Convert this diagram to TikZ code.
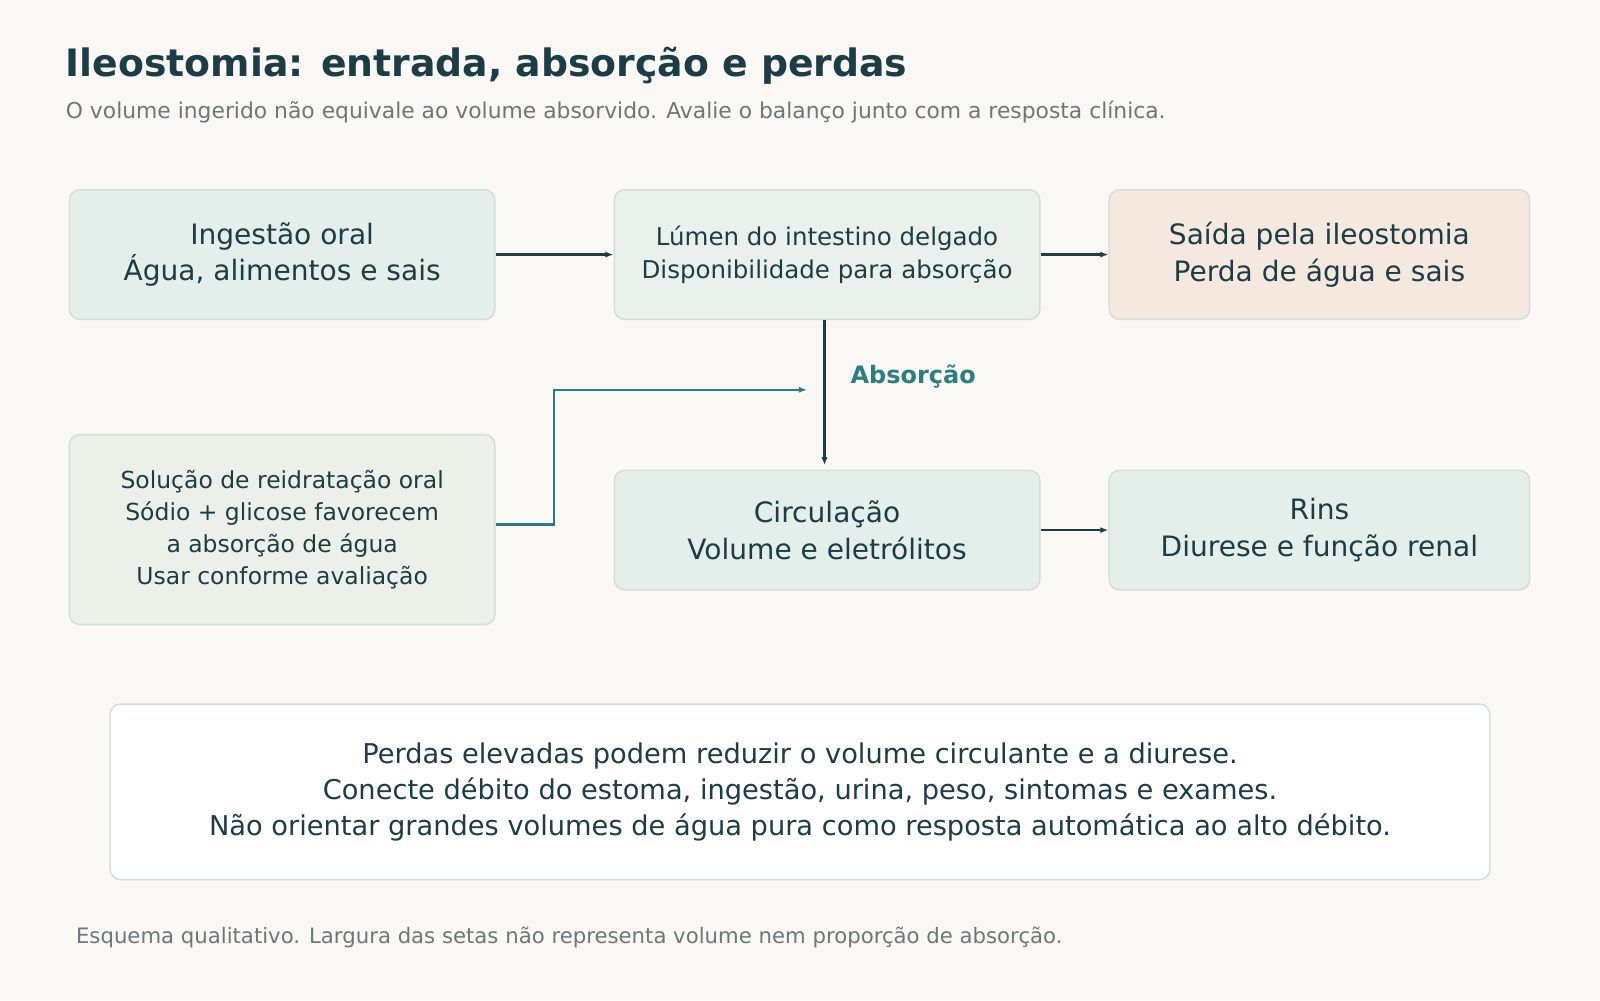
\documentclass[tikz,border=0pt]{standalone}
\usepackage{fontspec}
\setmainfont{DejaVu Sans}
\usetikzlibrary{arrows.meta}
\definecolor{ink}{HTML}{1C3D45}
\definecolor{gray1}{HTML}{6B7778}
\definecolor{teal1}{HTML}{2A7F7F}
\definecolor{bord}{HTML}{D3DEDA}
\definecolor{fA}{HTML}{E4EEEA}
\definecolor{fB}{HTML}{EAF1ED}
\definecolor{fC}{HTML}{F4E8DF}
\definecolor{fD}{HTML}{EBF1E8}
\definecolor{bg}{HTML}{FAF8F5}
\begin{document}
\begin{tikzpicture}[x=1pt,y=-1pt,
 box/.style={draw=bord,line width=1.5pt,rounded corners=10pt,inner sep=0pt,align=center,text=ink},
 arr/.style={ink,line width=2.4pt,-{Latex[length=8pt,width=6pt]}},
 t20/.style={font=\fontsize{27.5}{36}\selectfont},
 t18/.style={font=\fontsize{24}{33}\selectfont},
 t17/.style={font=\fontsize{23}{31.5}\selectfont}]
\fill[bg] (0,0) rectangle (1568,980);
\useasboundingbox (0,0) rectangle (1568,980);
\node[anchor=west,text=ink,font=\fontsize{37}{44}\selectfont\bfseries] (title) at (61,64) {Ileostomia: entrada, absorção e perdas};
\node[anchor=west,text=gray1,font=\fontsize{21.4}{26}\selectfont] (sub) at (61,110) {O volume ingerido não equivale ao volume absorvido. Avalie o balanço junto com a resposta clínica.};
\node[box,fill=fA,t20,minimum width=417pt,minimum height=127pt] (ing) at (276.5,249.5) {Ingestão oral\\Água, alimentos e sais};
\node[box,fill=fB,t18,minimum width=417pt,minimum height=127pt] (lum) at (810.5,249.5) {Lúmen do intestino delgado\\Disponibilidade para absorção};
\node[box,fill=fC,t20,minimum width=412pt,minimum height=127pt] (sai) at (1293,249.5) {Saída pela ileostomia\\Perda de água e sais};
\node[box,fill=fD,t17,minimum width=417pt,minimum height=186pt] (ors) at (276.5,519) {Solução de reidratação oral\\Sódio + glicose favorecem\\a absorção de água\\Usar conforme avaliação};
\node[box,fill=fA,t20,minimum width=417pt,minimum height=117pt] (cir) at (810.5,519.5) {Circulação\\Volume e eletrólitos};
\node[box,fill=fA,t20,minimum width=412pt,minimum height=117pt] (rin) at (1293,519.5) {Rins\\Diurese e função renal};
\node[box,fill=white,font=\fontsize{26.7}{35}\selectfont,minimum width=1352pt,minimum height=172pt] (note) at (784,776) {Perdas elevadas podem reduzir o volume circulante e a diurese.\\Conecte débito do estoma, ingestão, urina, peso, sintomas e exames.\\Não orientar grandes volumes de água pura como resposta automática ao alto débito.};
\node[anchor=west,text=gray1,font=\fontsize{20.8}{26}\selectfont] (foot) at (71,919) {Esquema qualitativo. Largura das setas não representa volume nem proporção de absorção.};
\node[anchor=west,text=teal1,font=\fontsize{23.5}{28}\selectfont\bfseries] (abs) at (830,369) {Absorção};
\coordinate (lb) at (808,313.5);
\coordinate (ct) at (808,456);
\coordinate (jn) at (791,382);
\draw[arr] (ing.east) -- (lum.west);
\draw[arr] (lum.east) -- (sai.west);
\draw[arr] (cir.east) -- (rin.west);
\draw[arr] (lb) -- (ct);
\draw[teal1,line width=2.4pt,-{Latex[length=8pt,width=6pt]}] (ors.east |- 0,514) -- (543,514) -- (543,382) -- (jn);
\end{tikzpicture}
\end{document}
